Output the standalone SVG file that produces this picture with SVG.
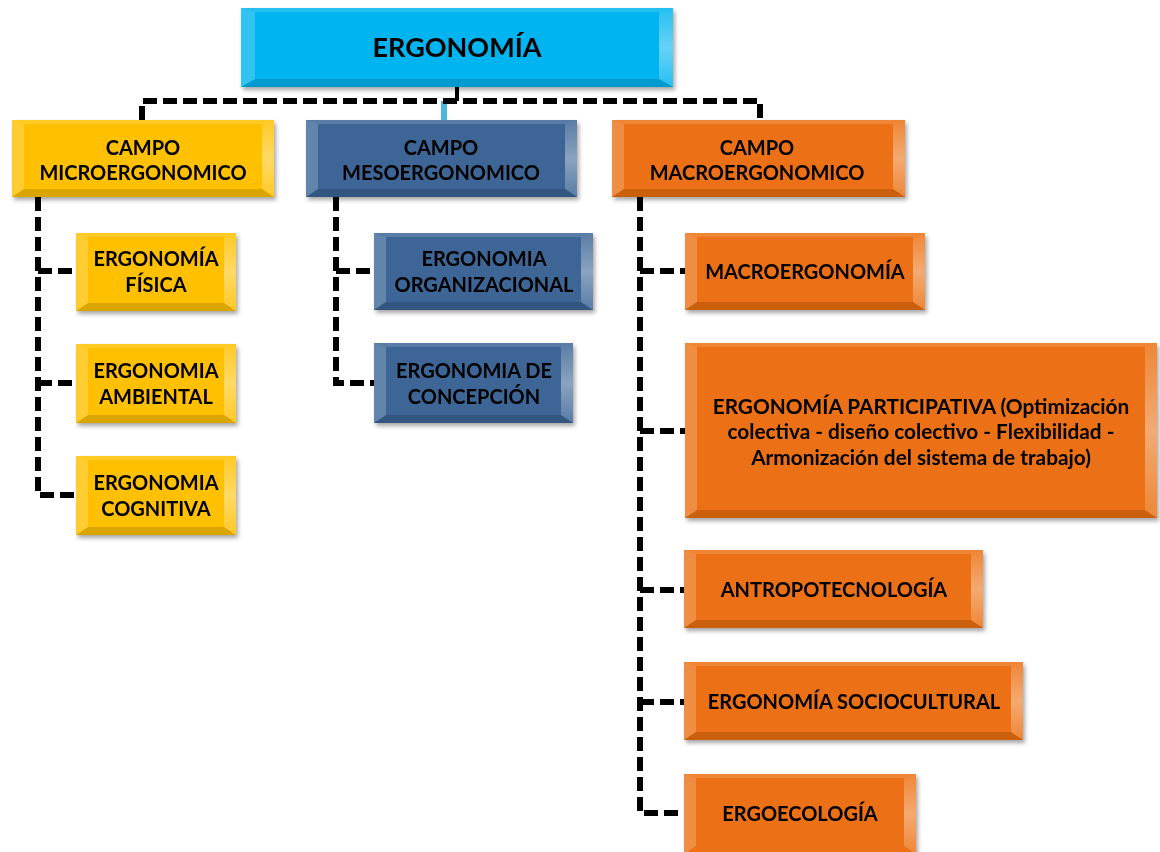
<svg xmlns="http://www.w3.org/2000/svg" width="1160" height="852" viewBox="0 0 1160 852">
  <defs>
    <filter id="shadow" x="-5%" y="-5%" width="112%" height="120%">
      <feDropShadow dx="2" dy="3" stdDeviation="2" flood-color="#000" flood-opacity="0.35"/>
    </filter>
    <linearGradient id="edgeR" x1="0" y1="0" x2="0" y2="1">
      <stop offset="0" stop-color="#fff" stop-opacity="0.15"/>
      <stop offset="0.5" stop-color="#fff" stop-opacity="0.4"/>
      <stop offset="1" stop-color="#fff" stop-opacity="0.15"/>
    </linearGradient>
    <style>
      .lbl { font-family: Lato, "Open Sans", "Liberation Sans", sans-serif; font-weight: 700; fill: #000; text-anchor: middle; }
      .big { font-size: 27px; }
      .mid { font-size: 20px; }
      .cyan { fill: #00B4F0; }
      .yellow { fill: #FFC000; }
      .blue { fill: #3C6696; }
      .orange { fill: #EC7113; }
      .bl { fill: #fff; opacity: 0.2; }
      .br { fill: url(#edgeR); }
      .bt { fill: #fff; opacity: 0.15; }
      .bb { fill: #000; opacity: 0.14; }
      .dash { fill: none; stroke: #000; stroke-width: 6; stroke-dasharray: 14 6; }
      .solid { fill: none; stroke: #000; stroke-width: 4; }
    </style>
  </defs>

  <!-- connectors -->
  <g id="connectors">
    <line class="solid" x1="457" y1="87" x2="457" y2="101"/>
    <line x1="444" y1="101" x2="444" y2="120" stroke="#4BB8D8" stroke-width="6"/>
    <path class="dash" d="M142 120 V101 H760 V120"/>
    <path class="dash" d="M38 197 V495 H76 M38 271 H76 M38 383 H76"/>
    <path class="dash" d="M336 197 V383 H374 M336 271 H374"/>
    <path class="dash" d="M640 197 V813 H684 M640 271 H685 M640 431 H685 M640 590 H684 M640 702 H684"/>
  </g>

  <!-- root -->
  <g id="ergonomia" filter="url(#shadow)">
    <rect class="cyan" x="241" y="8" width="432" height="79"/>
    <polygon class="bl" points="241,8 255,12 255,79 241,87"/>
    <polygon class="br" points="673,8 659,12 659,79 673,87"/>
    <polygon class="bt" points="241,8 673,8 659,12 255,12"/>
    <polygon class="bb" points="241,87 673,87 659,79 255,79"/>
    <text class="lbl big" x="457" y="57">ERGONOMÍA</text>
  </g>

  <!-- fields -->
  <g id="campo-micro" filter="url(#shadow)">
    <rect class="yellow" x="12" y="120" width="262" height="77"/>
    <polygon class="bl" points="12,120 24,124 24,189 12,197"/>
    <polygon class="br" points="274,120 262,124 262,189 274,197"/>
    <polygon class="bt" points="12,120 274,120 262,124 24,124"/>
    <polygon class="bb" points="12,197 274,197 262,189 24,189"/>
    <text class="lbl mid" x="143" y="155">CAMPO</text>
    <text class="lbl mid" x="143" y="180">MICROERGONOMICO</text>
  </g>

  <g id="campo-meso" filter="url(#shadow)">
    <rect class="blue" x="306" y="120" width="271" height="77"/>
    <polygon class="bl" points="306,120 318,124 318,189 306,197"/>
    <polygon class="br" points="577,120 565,124 565,189 577,197"/>
    <polygon class="bt" points="306,120 577,120 565,124 318,124"/>
    <polygon class="bb" points="306,197 577,197 565,189 318,189"/>
    <text class="lbl mid" x="441" y="155">CAMPO</text>
    <text class="lbl mid" x="441" y="180">MESOERGONOMICO</text>
  </g>

  <g id="campo-macro" filter="url(#shadow)">
    <rect class="orange" x="612" y="120" width="293" height="77"/>
    <polygon class="bl" points="612,120 624,124 624,189 612,197"/>
    <polygon class="br" points="905,120 893,124 893,189 905,197"/>
    <polygon class="bt" points="612,120 905,120 893,124 624,124"/>
    <polygon class="bb" points="612,197 905,197 893,189 624,189"/>
    <text class="lbl mid" x="757" y="155">CAMPO</text>
    <text class="lbl mid" x="757" y="180">MACROERGONOMICO</text>
  </g>

  <!-- micro children -->
  <g id="fisica" filter="url(#shadow)">
    <rect class="yellow" x="76" y="233" width="160" height="78"/>
    <polygon class="bl" points="76,233 88,237 88,303 76,311"/>
    <polygon class="br" points="236,233 224,237 224,303 236,311"/>
    <polygon class="bt" points="76,233 236,233 224,237 88,237"/>
    <polygon class="bb" points="76,311 236,311 224,303 88,303"/>
    <text class="lbl mid" x="156" y="266">ERGONOMÍA</text>
    <text class="lbl mid" x="156" y="292">FÍSICA</text>
  </g>

  <g id="ambiental" filter="url(#shadow)">
    <rect class="yellow" x="76" y="344" width="160" height="79"/>
    <polygon class="bl" points="76,344 88,348 88,415 76,423"/>
    <polygon class="br" points="236,344 224,348 224,415 236,423"/>
    <polygon class="bt" points="76,344 236,344 224,348 88,348"/>
    <polygon class="bb" points="76,423 236,423 224,415 88,415"/>
    <text class="lbl mid" x="156" y="378">ERGONOMIA</text>
    <text class="lbl mid" x="156" y="404">AMBIENTAL</text>
  </g>

  <g id="cognitiva" filter="url(#shadow)">
    <rect class="yellow" x="76" y="456" width="160" height="79"/>
    <polygon class="bl" points="76,456 88,460 88,527 76,535"/>
    <polygon class="br" points="236,456 224,460 224,527 236,535"/>
    <polygon class="bt" points="76,456 236,456 224,460 88,460"/>
    <polygon class="bb" points="76,535 236,535 224,527 88,527"/>
    <text class="lbl mid" x="156" y="490">ERGONOMIA</text>
    <text class="lbl mid" x="156" y="516">COGNITIVA</text>
  </g>

  <!-- meso children -->
  <g id="organizacional" filter="url(#shadow)">
    <rect class="blue" x="374" y="233" width="219" height="77"/>
    <polygon class="bl" points="374,233 386,237 386,302 374,310"/>
    <polygon class="br" points="593,233 581,237 581,302 593,310"/>
    <polygon class="bt" points="374,233 593,233 581,237 386,237"/>
    <polygon class="bb" points="374,310 593,310 581,302 386,302"/>
    <text class="lbl mid" x="484" y="266">ERGONOMIA</text>
    <text class="lbl mid" x="484" y="292">ORGANIZACIONAL</text>
  </g>

  <g id="concepcion" filter="url(#shadow)">
    <rect class="blue" x="374" y="343" width="199" height="80"/>
    <polygon class="bl" points="374,343 386,347 386,415 374,423"/>
    <polygon class="br" points="573,343 561,347 561,415 573,423"/>
    <polygon class="bt" points="374,343 573,343 561,347 386,347"/>
    <polygon class="bb" points="374,423 573,423 561,415 386,415"/>
    <text class="lbl mid" x="474" y="378">ERGONOMIA DE</text>
    <text class="lbl mid" x="474" y="404">CONCEPCIÓN</text>
  </g>

  <!-- macro children -->
  <g id="macroergonomia" filter="url(#shadow)">
    <rect class="orange" x="685" y="233" width="240" height="77"/>
    <polygon class="bl" points="685,233 697,237 697,302 685,310"/>
    <polygon class="br" points="925,233 913,237 913,302 925,310"/>
    <polygon class="bt" points="685,233 925,233 913,237 697,237"/>
    <polygon class="bb" points="685,310 925,310 913,302 697,302"/>
    <text class="lbl mid" x="805" y="279">MACROERGONOMÍA</text>
  </g>

  <g id="participativa" filter="url(#shadow)">
    <rect class="orange" x="685" y="343" width="472" height="175"/>
    <polygon class="bl" points="685,343 697,347 697,510 685,518"/>
    <polygon class="br" points="1157,343 1145,347 1145,510 1157,518"/>
    <polygon class="bt" points="685,343 1157,343 1145,347 697,347"/>
    <polygon class="bb" points="685,518 1157,518 1145,510 697,510"/>
    <text class="lbl mid" x="921" y="414" style="font-size:20.8px">ERGONOMÍA PARTICIPATIVA (Optimización</text>
    <text class="lbl mid" x="921" y="439" style="font-size:20.8px">colectiva - diseño colectivo - Flexibilidad -</text>
    <text class="lbl mid" x="921" y="465" style="font-size:20.8px">Armonización del sistema de trabajo)</text>
  </g>

  <g id="antropotecnologia" filter="url(#shadow)">
    <rect class="orange" x="684" y="550" width="299" height="78"/>
    <polygon class="bl" points="684,550 696,554 696,620 684,628"/>
    <polygon class="br" points="983,550 971,554 971,620 983,628"/>
    <polygon class="bt" points="684,550 983,550 971,554 696,554"/>
    <polygon class="bb" points="684,628 983,628 971,620 696,620"/>
    <text class="lbl mid" x="834" y="597">ANTROPOTECNOLOGÍA</text>
  </g>

  <g id="sociocultural" filter="url(#shadow)">
    <rect class="orange" x="684" y="662" width="339" height="78"/>
    <polygon class="bl" points="684,662 696,666 696,732 684,740"/>
    <polygon class="br" points="1023,662 1011,666 1011,732 1023,740"/>
    <polygon class="bt" points="684,662 1023,662 1011,666 696,666"/>
    <polygon class="bb" points="684,740 1023,740 1011,732 696,732"/>
    <text class="lbl mid" x="854" y="709">ERGONOMÍA SOCIOCULTURAL</text>
  </g>

  <g id="ergoecologia" filter="url(#shadow)">
    <rect class="orange" x="684" y="774" width="232" height="80"/>
    <polygon class="bl" points="684,774 696,778 696,846 684,854"/>
    <polygon class="br" points="916,774 904,778 904,846 916,854"/>
    <polygon class="bt" points="684,774 916,774 904,778 696,778"/>
    <text class="lbl mid" x="800" y="821">ERGOECOLOGÍA</text>
  </g>
</svg>
